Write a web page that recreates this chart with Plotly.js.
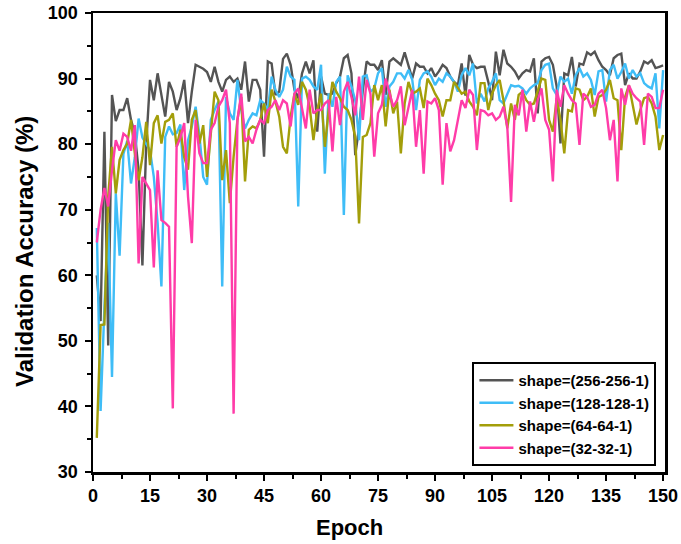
<!DOCTYPE html>
<html>
<head>
<meta charset="utf-8">
<script src="https://cdn.plot.ly/plotly-3.0.1.min.js"></script>
<style>html,body{margin:0;padding:0;background:#fff;}#chart{width:681px;height:544px;}</style>
</head>
<body>
<div id="chart"></div>
<script>
var seriesNames = ["shape=(256-256-1)", "shape=(128-128-1)", "shape=(64-64-1)", "shape=(32-32-1)"];
var seriesColors = ["#545454", "#3fbdf7", "#a39e0a", "#ff3ca8"];
var xTicks = [0, 15, 30, 45, 60, 75, 90, 105, 120, 135, 150];
var yTicks = [30, 40, 50, 60, 70, 80, 90, 100];

var acc256 = [
60, 53, 81.9, 49.3, 87.5, 83.5, 85.2, 85.2, 87, 83.7,
81.6, 76, 61.5, 80, 89.8, 86.7, 90.8, 87.2, 84.2, 89.5,
88, 85.2, 87, 89.8, 83.2, 88, 92.1, 91.8, 91.5, 91,
89.5, 91.8, 89.5, 88, 89.8, 90.3, 89.5, 90, 88.3, 92.6,
86.5, 89.8, 89.8, 88.3, 78.1, 92.6, 92.3, 87.5, 88, 93,
93.8, 92.1, 88.3, 87, 90.8, 92.6, 90.8, 92.8, 81.9, 90.3,
87.7, 87.5, 87.7, 89.3, 90.3, 93.1, 93.6, 90.8, 78.3, 82.5,
88.3, 92.6, 92.1, 92.1, 91.3, 92.8, 87.5, 92.6, 93.1, 92.6,
92.1, 94, 92.1, 90, 92.3, 91.8, 91.8, 90.8, 91.6, 90.3,
91.1, 92.1, 91.6, 90.3, 89.5, 89, 92.3, 87.4, 93.6, 92.1,
91.6, 91.8, 91.8, 89.5, 86.7, 94.1, 90.5, 94.4, 92.3, 91.8,
91.1, 90, 90.8, 91.3, 91.1, 93.1, 84.7, 92.6, 93.1, 93.3,
92.1, 88.8, 80.1, 90.8, 90.5, 93.3, 88.8, 92.3, 92.1, 94,
93.6, 94.1, 92.8, 91.8, 91.3, 90.5, 93.1, 93.6, 93.8, 89,
90.8, 90, 90, 91.1, 92.6, 92.3, 92.8, 91.6, 91.8, 92
];
var acc128 = [
67.2, 39.3, 55, 68, 44.5, 72.5, 63, 78.5, 80.5, 74,
78, 83.9, 81, 80.1, 79.1, 75, 68, 58.3, 81.1, 82.7,
81.5, 81.7, 83, 73, 80.6, 82.7, 85.7, 81.4, 75, 73.8,
83.7, 85.2, 86.5, 58.3, 87.2, 84.7, 83.7, 89.8, 85.2, 82.4,
83.7, 84.7, 84.4, 86.7, 86.2, 85.2, 90.3, 88.3, 87.2, 88.3,
91.8, 90.3, 89.8, 70.5, 90, 90.3, 89.8, 88.8, 88.3, 92.1,
75.5, 87.7, 85.7, 89.5, 90.3, 69.2, 90.5, 88.8, 86.7, 80.6,
90.3, 90.5, 88, 88.5, 90.8, 91.6, 85.7, 88.8, 89.5, 90.8,
90.8, 90, 91.3, 89.8, 85.2, 89.8, 90.8, 91.1, 90.3, 89,
90, 89.5, 90.8, 90.3, 89.5, 88, 90.5, 91.6, 90.5, 92.3,
86.2, 87.7, 86.5, 88.5, 89.5, 90.8, 86.7, 86.2, 87.7, 89,
88.8, 88.9, 88.5, 87.7, 88.5, 89, 89.3, 91.3, 92.1, 92.3,
88.5, 87.5, 90.3, 89.5, 90, 87.7, 90.5, 91.6, 90.3, 90.8,
89.8, 87.5, 91.1, 91.3, 86.5, 91.3, 92.1, 90, 91, 92.3,
90, 91.3, 90.3, 90.8, 89.3, 88.8, 88.5, 90.8, 82.4, 91.3
];
var acc64 = [
35.2, 52.4, 52.5, 72, 79.6, 72.5, 77.6, 79.1, 80.1, 83.7,
78.6, 74.5, 78, 83.4, 76.8, 83.2, 84.4, 80.1, 83.4, 83.7,
84.7, 79.6, 82.2, 78, 76.1, 83.7, 85.2, 80.1, 82.9, 75,
81.6, 88, 86.7, 74.5, 79.1, 71, 78.1, 83.7, 87.2, 74.3,
82.2, 82.7, 82.4, 83.7, 86.2, 83.2, 88.3, 86.5, 84.2, 79.6,
78.6, 84.2, 87.7, 86, 89.5, 88.3, 85.7, 80.6, 85.2, 87.7,
79.6, 85.2, 89.5, 88, 87, 85.7, 85.2, 83.7, 81.1, 67.9,
81.1, 81.4, 83.2, 89, 86.7, 89, 82.7, 88.3, 84.7, 86.5,
78.6, 86.2, 89.5, 87.7, 88, 88.5, 85.5, 90, 89, 87.7,
86.7, 84.2, 86.7, 86.7, 89.5, 88.5, 87.7, 88, 86.5, 85.7,
84.4, 89.3, 89.3, 85.2, 87.7, 89, 89.8, 86.7, 82.4, 86.2,
83.7, 87.5, 88, 86.7, 86, 86.2, 88.3, 90, 89.8, 83.7,
81.9, 87, 83.7, 78.6, 85.2, 85, 88.5, 88.3, 86.7, 87.2,
88.5, 84.2, 87.2, 87.5, 88.3, 89.8, 87, 86.7, 79.1, 87.2,
89, 86.2, 83, 85.2, 87, 87.2, 86.2, 84.2, 79.1, 81.4
];
var acc32 = [
65, 70, 73.3, 70.5, 76, 80.6, 79, 81.6, 81.1, 79,
82.9, 61.8, 75, 74, 73, 61.2, 76, 68.4, 68, 67.4,
39.7, 79.6, 81, 83.2, 72, 64.9, 83.7, 78.6, 77.1, 77.1,
82.2, 83.2, 85.7, 86.7, 88.3, 83.2, 38.9, 83.7, 87.7, 80.4,
81.1, 80.1, 82.2, 83.7, 83.2, 85.2, 85.7, 86.7, 85.2, 86.7,
86.2, 82.7, 87.7, 88.5, 85.7, 82.4, 88.3, 84.7, 85.2, 85.2,
86.2, 86.7, 78.9, 87.2, 82.9, 88, 89.5, 87.2, 84.4, 90.3,
83.7, 89.8, 87.7, 78.1, 84.7, 86, 90, 87.7, 85.7, 86.7,
88.8, 82.9, 85.7, 88.3, 79.6, 85.2, 75.5, 86.5, 86.2, 87,
85.2, 73.8, 83.2, 78.9, 80.6, 83.7, 86.7, 85.5, 88.3, 87.5,
79.1, 85.2, 85, 84.4, 84.7, 83.7, 84.2, 85.7, 82.7, 71.2,
86, 84.4, 88.3, 81.9, 86.5, 83.4, 86.7, 88.5, 83.7, 82.2,
74.3, 88.3, 85.7, 89, 87.7, 86.7, 86.2, 79.9, 87.7, 87.2,
85.7, 86, 87.7, 88.3, 85.5, 80.6, 83.7, 74.3, 88.5, 86,
89, 87.7, 87, 86.5, 79.9, 87.7, 87.2, 85.5, 85.5, 88.3
];

var epochs = acc256.map(function (_, i) { return i + 1; });
var allSeries = [acc256, acc128, acc64, acc32];

var FONT = "Liberation Sans, Arial, sans-serif";

var traces = allSeries.map(function (vals, k) {
  return {
    x: epochs, y: vals, type: "scatter", mode: "lines",
    name: seriesNames[k],
    line: { color: seriesColors[k], width: 2.4 }
  };
});

var axisCommon = {
  showgrid: false, zeroline: false,
  showline: true, linecolor: "#000", linewidth: 2.5, mirror: true,
  ticks: "outside", ticklen: 6, tickwidth: 2, tickcolor: "#000",
  tickfont: { family: FONT, size: 18, color: "#000", weight: "bold" }
};

var layout = {
  width: 681, height: 544,
  margin: { l: 93, r: 16, t: 13, b: 72 },
  paper_bgcolor: "#fff", plot_bgcolor: "#fff",
  showlegend: true,
  legend: {
    x: 0.985, y: 0.013, xanchor: "right", yanchor: "bottom",
    bgcolor: "#fff", bordercolor: "#000", borderwidth: 2,
    font: { family: FONT, size: 15, color: "#000", weight: "bold" },
    tracegroupgap: 0, itemwidth: 34
  },
  xaxis: Object.assign({}, axisCommon, {
    range: [0, 150.5], tickmode: "array", tickvals: xTicks,
    minor: { dtick: 7.5, tick0: 0, ticks: "outside", ticklen: 4, tickwidth: 2, tickcolor: "#000", showgrid: false }
  }),
  yaxis: Object.assign({}, axisCommon, {
    range: [30, 100], tickmode: "array", tickvals: yTicks,
    minor: { dtick: 5, tick0: 0, ticks: "outside", ticklen: 4, tickwidth: 2, tickcolor: "#000", showgrid: false },
    ticklabelstandoff: 3
  }),
  annotations: [
    { text: "Epoch", xref: "paper", yref: "paper", x: 0.449, y: -0.122,
      xanchor: "center", yanchor: "middle", showarrow: false,
      font: { family: FONT, size: 22, color: "#000", weight: "bold" } },
    { text: "Validation Accuracy (%)", xref: "paper", yref: "paper", x: -0.119, y: 0.4815,
      xanchor: "center", yanchor: "middle", showarrow: false, textangle: -90,
      font: { family: FONT, size: 24, color: "#000", weight: "bold" } }
  ]
};

Plotly.newPlot("chart", traces, layout, { displayModeBar: false, staticPlot: true });
</script>
</body>
</html>
